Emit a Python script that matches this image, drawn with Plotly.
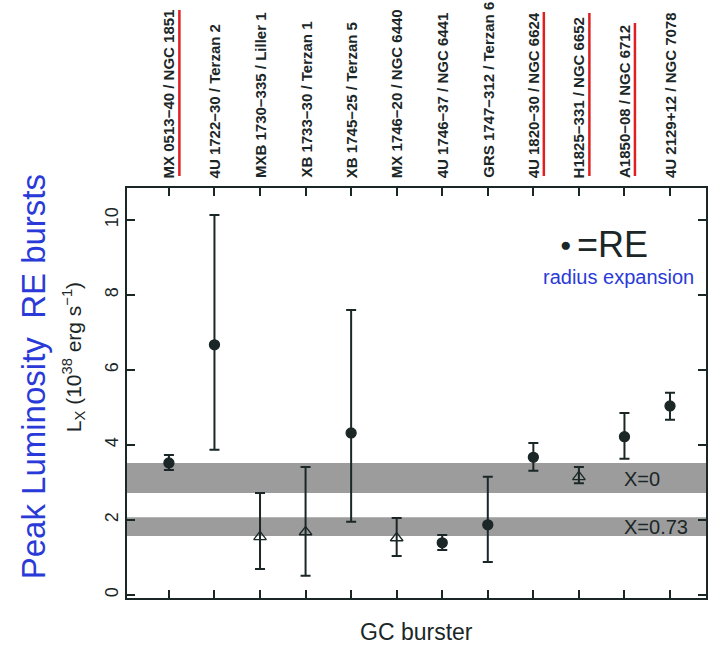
import plotly.graph_objects as go

# ---- data ----
bursters = ["MX 0513−40 / NGC 1851", "4U 1722−30 / Terzan 2", "MXB 1730−335 / Liller 1",
            "XB 1733−30 / Terzan 1", "XB 1745−25 / Terzan 5", "MX 1746−20 / NGC 6440",
            "4U 1746−37 / NGC 6441", "GRS 1747−312 / Terzan 6", "4U 1820−30 / NGC 6624",
            "H1825−331 / NGC 6652", "A1850−08 / NGC 6712", "4U 2129+12 / NGC 7078"]
lx = [3.52, 6.67, 1.55, 1.68, 4.32, 1.52, 1.39, 1.87, 3.67, 3.15, 4.22, 5.04]
lx_hi = [3.73, 10.13, 2.72, 3.41, 7.60, 2.05, 1.60, 3.15, 4.05, 3.41, 4.85, 5.39]
lx_lo = [3.33, 3.87, 0.69, 0.51, 1.95, 1.04, 1.20, 0.88, 3.31, 2.98, 3.63, 4.67]
is_re = [True, True, False, False, True, False, True, True, True, False, True, True]

band_names = ["X=0", "X=0.73"]
band_lo = [2.72, 1.57]
band_hi = [3.52, 2.07]
band_label_y = [3.09, 1.81]

red_marked = [0, 8, 9, 10]
red_top_px = [10, 12, 13, 23]

ink = "#1b2727"
blue = "#2a3ad8"
font = "Liberation Sans, Arial, sans-serif"

W, H = 708, 645
ML, MR, MT, MB = 127, 0, 188, 47
PH = H - MT - MB
PW = W - ML - MR

fig = go.Figure()

for filt, sym in [(True, "circle"), (False, "triangle-up-open")]:
    idx = [i for i in range(len(lx)) if is_re[i] == filt]
    fig.add_trace(go.Scatter(
        x=idx, y=[lx[i] for i in idx], mode="markers",
        marker=dict(symbol=sym, size=10 if filt else 11, color=ink,
                    line=dict(color=ink, width=1.3)),
        error_y=dict(type="data", symmetric=False,
                     array=[lx_hi[i] - lx[i] for i in idx],
                     arrayminus=[lx[i] - lx_lo[i] for i in idx],
                     color=ink, thickness=2, width=5),
        showlegend=False, cliponaxis=False))

for lo, hi, name, ly in zip(band_lo, band_hi, band_names, band_label_y):
    fig.add_shape(type="rect", xref="paper", yref="y", x0=0, x1=1, y0=lo, y1=hi,
                  fillcolor="#9c9c9c", line_width=0, layer="below")
    fig.add_annotation(x=9.95, y=ly, xref="x", yref="y", text=name, showarrow=False,
                       xanchor="left", yanchor="middle",
                       font=dict(family=font, size=20, color=ink))

for i, name in enumerate(bursters):
    fig.add_annotation(x=i, y=1, xref="x", yref="paper", text="<b>" + name + "</b>",
                       showarrow=False, textangle=-90, xanchor="center",
                       yanchor="bottom", yshift=8,
                       font=dict(family=font, size=15, color=ink))

for i, top in zip(red_marked, red_top_px):
    fig.add_shape(type="line", xref="x", yref="paper", x0=i + 0.23, x1=i + 0.23,
                  y0=1 + 12 / PH, y1=1 + (MT - top) / PH,
                  line=dict(color="#e02020", width=2.5))

# axis titles / notes
fig.add_annotation(x=0.5, y=-34 / PH, xref="paper", yref="paper", text="GC burster",
                   showarrow=False, xanchor="center", yanchor="middle",
                   font=dict(family=font, size=23, color=ink))
fig.add_annotation(x=-54 / PW, y=(598 - 357) / PH, xref="paper", yref="paper",
                   text="L<sub>X</sub> (10<sup>38</sup> erg s<sup>−1</sup>)",
                   showarrow=False, textangle=-90, xanchor="center", yanchor="middle",
                   font=dict(family=font, size=21, color=ink))
fig.add_annotation(x=-94 / PW, y=(598 - 377) / PH, xref="paper", yref="paper",
                   text="Peak Luminosity  RE bursts",
                   showarrow=False, textangle=-90, xanchor="center", yanchor="middle",
                   font=dict(family=font, size=33, color=blue))
fig.add_annotation(x=(567 - 127) / PW, y=(598 - 244) / PH, xref="paper", yref="paper",
                   text="●", showarrow=False, xanchor="center", yanchor="middle",
                   font=dict(family=font, size=19, color=ink))
fig.add_annotation(x=(577 - 127) / PW, y=(598 - 244) / PH, xref="paper", yref="paper",
                   text="=RE", showarrow=False, xanchor="left", yanchor="middle",
                   font=dict(family=font, size=36, color=ink))
fig.add_annotation(x=(542 - 127) / PW, y=(598 - 277) / PH, xref="paper", yref="paper",
                   text="radius expansion", showarrow=False, xanchor="left", yanchor="middle",
                   font=dict(family=font, size=20, color=blue))

fig.update_layout(
    width=W, height=H, margin=dict(l=ML, r=MR, t=MT, b=MB),
    paper_bgcolor="white", plot_bgcolor="white",
    xaxis=dict(range=[-0.92, 11.79], tickvals=list(range(12)), showticklabels=False,
               ticks="inside", ticklen=8, tickwidth=2, tickcolor=ink,
               showline=True, linecolor=ink, linewidth=2, mirror="ticks",
               showgrid=False, zeroline=False),
    yaxis=dict(range=[-0.08, 10.85], tickvals=[0, 2, 4, 6, 8, 10],
               ticks="inside", ticklen=8, tickwidth=2, tickcolor=ink,
               showline=True, linecolor=ink, linewidth=2, mirror="ticks",
               tickangle=-90, tickfont=dict(family=font, size=18, color=ink),
               showgrid=False, zeroline=False),
)

fig.write_html("out.html")
